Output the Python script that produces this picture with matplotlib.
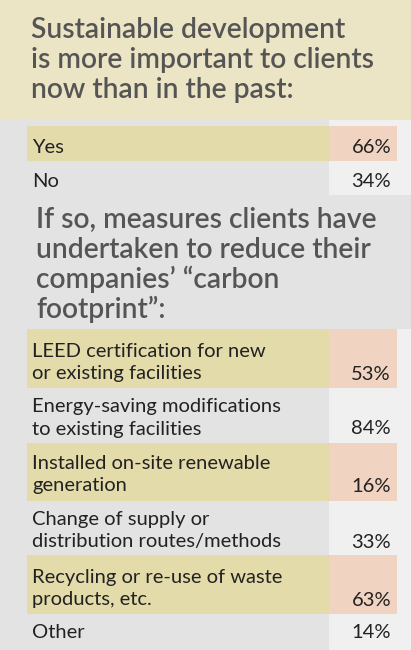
import matplotlib.pyplot as plt
from matplotlib.patches import Rectangle

# data
title1 = ["Sustainable development", "is more important to clients", "now than in the past:"]
q1_labels = [["Yes"], ["No"]]
q1_values = [66, 34]

title2 = ["If so, measures clients have", "undertaken to reduce their",
          "companies\u2019 \u201ccarbon", "footprint\u201d:"]
q2_labels = [
    ["LEED certification for new", "or existing facilities"],
    ["Energy-saving modifications", "to existing facilities"],
    ["Installed on-site renewable", "generation"],
    ["Change of supply or", "distribution routes/methods"],
    ["Recycling or re-use of waste", "products, etc."],
    ["Other"],
]
q2_values = [53, 84, 16, 33, 63, 14]

# colours
header_bg = "#ECE5C5"
gray_bg = "#E3E3E3"
light = "#F0F0F0"
yellow = "#E4DBAB"
pink = "#F1D3C1"
title_col = "#555555"
text_col = "#222222"

plt.rcParams['font.family'] = ['Lato', 'DejaVu Sans']

W, H = 411, 650
fig = plt.figure(figsize=(W / 100, H / 100), dpi=100)
fig.patch.set_facecolor(gray_bg)
ax = fig.add_axes([0, 0, 1, 1])
ax.set_xlim(0, W)
ax.set_ylim(H, 0)
ax.axis('off')

x0, xsplit, xpink = 27, 329, 397
xtext, xval = 32, 391
title_gap, line_gap = 30, 22.5


def draw_title(x, y, lines):
    for k, line in enumerate(lines):
        ax.text(x, y + k * title_gap, line, fontsize=20.3, fontweight='semibold',
                color=title_col, va='baseline', ha='left')


def draw_table(top, labels, values, heights, offsets, strip_top):
    bottom = top + sum(heights)
    ax.add_patch(Rectangle((xsplit, strip_top), W - xsplit, bottom - strip_top,
                           color=light, lw=0))
    y = top
    for i, (lab, val, h, off) in enumerate(zip(labels, values, heights, offsets)):
        if i % 2 == 0:
            ax.add_patch(Rectangle((x0, y), xsplit - x0, h, color=yellow, lw=0))
            ax.add_patch(Rectangle((xsplit, y), xpink - xsplit, h, color=pink, lw=0))
        for k, line in enumerate(lab):
            ax.text(xtext, y + off + k * line_gap, line, fontsize=14.5,
                    color=text_col, va='baseline', ha='left')
        ax.text(xval, y + off + (len(lab) - 1) * line_gap, f"{val}%",
                fontsize=14.5, color=text_col, va='baseline', ha='right')
        y += h


# header band
ax.add_patch(Rectangle((0, 0), W, 120, color=header_bg, lw=0))
draw_title(31, 38, title1)

draw_table(126, q1_labels, q1_values, [35, 34], [27, 26], strip_top=120)

draw_title(36, 228, title2)

draw_table(329, q2_labels, q2_values, [59, 55, 58, 54, 59, 36],
           [28, 24, 26, 24, 28, 24], strip_top=329)

fig.savefig("out.png", dpi=100, facecolor=gray_bg)
